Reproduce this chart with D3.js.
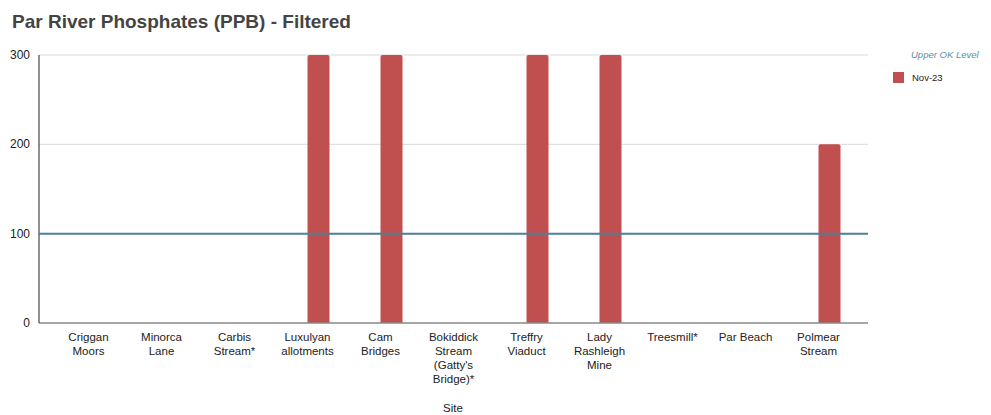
<!DOCTYPE html>
<html><head><meta charset="utf-8">
<script src="https://cdn.jsdelivr.net/npm/d3@7"></script>
<style>body{margin:0;background:#fff;font-family:Arial,"Liberation Sans",sans-serif}</style>
</head><body><svg id="c" width="991" height="415"></svg>
<script>
const sites = ["Criggan Moors","Minorca Lane","Carbis Stream*","Luxulyan allotments","Cam Bridges","Bokiddick Stream (Gatty's Bridge)*","Treffry Viaduct","Lady Rashleigh Mine","Treesmill*","Par Beach","Polmear Stream"];
const siteLines = [["Criggan","Moors"],["Minorca","Lane"],["Carbis","Stream*"],["Luxulyan","allotments"],["Cam","Bridges"],["Bokiddick","Stream","(Gatty's","Bridge)*"],["Treffry","Viaduct"],["Lady","Rashleigh","Mine"],["Treesmill*"],["Par Beach"],["Polmear","Stream"]];
const nov23 = [0,0,0,300,300,0,300,300,0,0,200];
const upperOK = [100,100,100,100,100,100,100,100,100,100,100];
const yTicks = [0,100,200,300];
const seriesSlots = ["Upper OK Level","Nov-23"];

const svg = d3.select("#c");
const L=39, R=868, T=55, B=323;
const x = d3.scaleBand().domain(sites).range([52,855]);
const x1 = d3.scaleBand().domain(seriesSlots).range([x.bandwidth()/2-23, x.bandwidth()/2+23]);
const y = d3.scaleLinear().domain([0,300]).range([B,T]);

svg.append("text").attr("x",12).attr("y",28).text("Par River Phosphates (PPB) - Filtered")
  .attr("font-size",19).attr("font-weight","bold").attr("fill","#444");

// gridlines
svg.append("g").selectAll("line").data(yTicks.filter(d=>d>0)).join("line")
  .attr("x1",L).attr("x2",R).attr("y1",d=>y(d)).attr("y2",d=>y(d)).attr("stroke","#d9d9d9");
svg.append("g").selectAll("text").data(yTicks).join("text")
  .attr("x",30).attr("y",d=>y(d)+4).attr("text-anchor","end").attr("font-size",12).attr("fill","#222").text(d=>d);

// bars
svg.append("g").selectAll("path").data(sites.map((s,i)=>({s,v:nov23[i]})).filter(d=>d.v>0)).join("path")
  .attr("fill","#c0504f")
  .attr("d",d=>{const x0=x(d.s)+x1("Nov-23"), w=x1.bandwidth()-1, y0=y(d.v), r=2;
    return `M${x0},${B}V${y0+r}Q${x0},${y0} ${x0+r},${y0}H${x0+w-r}Q${x0+w},${y0} ${x0+w},${y0+r}V${B}Z`;});

// baseline & left axis
svg.append("line").attr("x1",L).attr("x2",R).attr("y1",B).attr("y2",B).attr("stroke","#888").attr("stroke-width",1.5);
svg.append("line").attr("x1",L).attr("x2",L).attr("y1",T).attr("y2",B).attr("stroke","#222").attr("stroke-width",1);

// upper OK line
const line = d3.line().x((d,i)=> i===0?L:(i===upperOK.length-1?R:x(sites[i])+x.bandwidth()/2)).y(d=>y(d));
svg.append("path").datum(upperOK).attr("d",line).attr("fill","none").attr("stroke","#4c7f99").attr("stroke-width",2);

// category labels
const g = svg.append("g");
sites.forEach((s,i)=>{
  const t = g.append("text").attr("x",x(s)+x.bandwidth()/2).attr("y",341).attr("text-anchor","middle")
    .attr("font-size",11.5).attr("fill","#222");
  siteLines[i].forEach((ln,j)=>t.append("tspan").attr("x",x(s)+x.bandwidth()/2).attr("dy",j?14:0).text(ln));
});
svg.append("text").attr("x",453).attr("y",412).attr("text-anchor","middle").attr("font-size",11.5).attr("fill","#222").text("Site");

// legend
svg.append("text").attr("x",911).attr("y",58).text("Upper OK Level").attr("font-size",9.5).attr("font-style","italic").attr("fill","#5a8fa3");
svg.append("rect").attr("x",893).attr("y",72).attr("width",11).attr("height",11).attr("fill","#c0504f");
svg.append("text").attr("x",912).attr("y",81).text("Nov-23").attr("font-size",9.5).attr("fill","#222");
</script></body></html>
